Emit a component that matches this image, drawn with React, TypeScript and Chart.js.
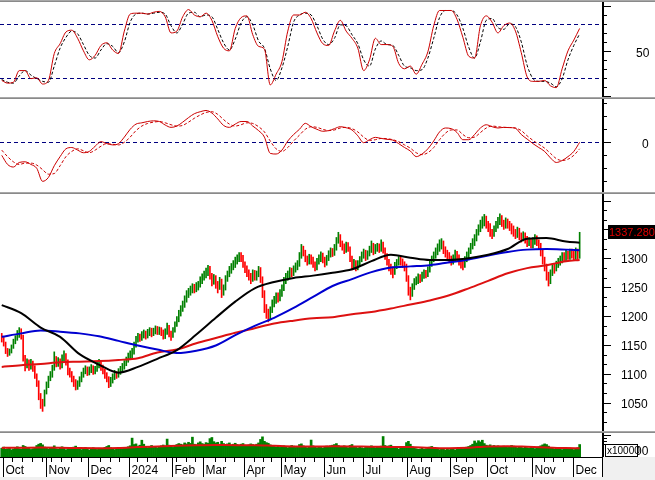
import React, { useEffect, useRef } from 'react';
import { Chart, registerables } from 'chart.js';

Chart.register(...registerables);

const FONT = '"Liberation Sans", Arial, Helvetica, sans-serif';
Chart.defaults.font.family = FONT;

const W = 655;
const AXIS_X = 603;
const X_MIN = -0.89;
const X_MAX = 309;

// ---- time axis (trading-day indices; 0 = 29 Sep 2023) ----
const monthLabels = ['Oct', 'Nov', 'Dec', '2024', 'Feb', 'Mar', 'Apr', 'May', 'Jun', 'Jul', 'Aug', 'Sep', 'Oct', 'Nov', 'Dec'];
const monthStarts = [1, 23, 45, 66, 88, 104, 125, 144, 166, 186, 209, 231, 250, 273, 294];
const weekStarts = [6, 11, 16, 21, 26, 31, 36, 41, 51, 56, 61, 70, 75, 80, 85, 90, 95, 100, 110, 115, 120, 130, 135, 139, 146, 151, 156, 161, 171, 176, 181, 191, 196, 201, 206, 211, 216, 221, 226, 234, 239, 244, 254, 259, 264, 269, 279, 284, 289];

// ---- daily price data ----
const closes = [
  1160, 1152, 1140, 1135, 1138, 1147, 1155, 1162, 1168, 1172,
  1165, 1128, 1115, 1120, 1112, 1118, 1110, 1098, 1085, 1062,
  1048, 1045, 1068, 1080, 1092, 1098, 1110, 1125, 1118, 1122,
  1115, 1128, 1132, 1120, 1105, 1100, 1092, 1085, 1080, 1082,
  1090, 1098, 1104, 1108, 1102, 1106, 1110, 1104, 1108, 1114,
  1118, 1112, 1105, 1098, 1092, 1085, 1088, 1095, 1100, 1098,
  1104, 1108, 1112, 1118, 1124, 1130, 1134, 1138, 1150, 1160,
  1164, 1162, 1168, 1170, 1166, 1172, 1175, 1170, 1174, 1178,
  1175, 1176, 1172, 1165, 1172, 1180, 1170, 1168, 1175, 1186,
  1195, 1205, 1214, 1220, 1230, 1238, 1242, 1246, 1250, 1248,
  1252, 1255, 1262, 1268, 1272, 1278, 1282, 1270, 1260, 1266,
  1255, 1250, 1262, 1240, 1248, 1265, 1272, 1280, 1285, 1290,
  1296, 1300, 1305, 1302, 1290, 1282, 1276, 1270, 1265, 1275,
  1268, 1272, 1280, 1265, 1240, 1215, 1205, 1198, 1210, 1222,
  1228, 1235, 1230, 1240, 1248, 1262, 1268, 1272, 1278, 1275,
  1282, 1286, 1290, 1305, 1318, 1310, 1300, 1295, 1302, 1298,
  1290, 1285, 1295, 1300, 1305, 1298, 1292, 1300, 1308, 1312,
  1310, 1318, 1330, 1338, 1325, 1320, 1315, 1322, 1318, 1300,
  1288, 1292, 1285, 1290, 1298, 1305, 1310, 1302, 1308, 1315,
  1322, 1312, 1318, 1320, 1316, 1324, 1315, 1305, 1295, 1285,
  1280, 1276, 1288, 1292, 1298, 1294, 1290, 1285, 1268, 1245,
  1238, 1250, 1260, 1262, 1268, 1265, 1270, 1275, 1272, 1280,
  1290, 1298, 1305, 1312, 1318, 1324, 1326, 1315, 1310, 1305,
  1300, 1295, 1300, 1308, 1302, 1295, 1290, 1288, 1298, 1305,
  1312, 1320, 1328, 1335, 1345, 1352, 1360, 1365, 1368, 1360,
  1355, 1345, 1342, 1350, 1358, 1365, 1370, 1362, 1358, 1365,
  1360, 1355, 1350, 1345, 1342, 1348, 1338, 1335, 1340, 1332,
  1328, 1330, 1325, 1330, 1335, 1328, 1322, 1310, 1298, 1285,
  1270, 1260, 1275, 1285, 1282, 1290, 1295, 1298, 1305, 1302,
  1308, 1305, 1310, 1306, 1302, 1310, 1305, 1337.28,
];
const lows = [
  1155, 1148, 1135, 1130, 1132, 1136, 1144, 1152, 1158, 1163,
  1160, 1122, 1105, 1110, 1106, 1108, 1104, 1092, 1078, 1055,
  1040, 1035, 1044, 1065, 1076, 1088, 1094, 1106, 1112, 1113,
  1108, 1110, 1122, 1115, 1098, 1094, 1086, 1078, 1072, 1073,
  1078, 1086, 1094, 1100, 1097, 1098, 1102, 1099, 1100, 1104,
  1110, 1106, 1100, 1092, 1086, 1076, 1078, 1084, 1090, 1092,
  1094, 1099, 1104, 1108, 1114, 1120, 1126, 1128, 1134, 1146,
  1155, 1156, 1158, 1162, 1160, 1162, 1166, 1164, 1166, 1169,
  1168, 1168, 1166, 1160, 1161, 1168, 1164, 1158, 1163, 1172,
  1182, 1190, 1200, 1208, 1215, 1224, 1232, 1236, 1240, 1240,
  1242, 1245, 1250, 1256, 1262, 1266, 1270, 1264, 1252, 1255,
  1248, 1240, 1246, 1232, 1236, 1245, 1260, 1268, 1274, 1280,
  1284, 1290, 1294, 1294, 1284, 1275, 1268, 1262, 1256, 1260,
  1262, 1262, 1268, 1258, 1232, 1206, 1196, 1190, 1194, 1206,
  1216, 1222, 1224, 1226, 1234, 1244, 1256, 1262, 1266, 1268,
  1270, 1276, 1280, 1286, 1300, 1304, 1294, 1288, 1290, 1290,
  1284, 1278, 1280, 1290, 1294, 1292, 1285, 1288, 1296, 1302,
  1303, 1305, 1314, 1326, 1320, 1314, 1308, 1310, 1312, 1294,
  1280, 1282, 1278, 1280, 1286, 1294, 1300, 1296, 1298, 1304,
  1310, 1306, 1308, 1312, 1310, 1312, 1309, 1298, 1288, 1278,
  1272, 1266, 1272, 1282, 1288, 1288, 1284, 1278, 1260, 1236,
  1228, 1234, 1246, 1254, 1256, 1258, 1260, 1265, 1266, 1268,
  1276, 1286, 1294, 1300, 1306, 1312, 1316, 1308, 1302, 1298,
  1292, 1288, 1290, 1296, 1296, 1288, 1283, 1280, 1284, 1294,
  1300, 1308, 1316, 1322, 1330, 1340, 1346, 1352, 1356, 1352,
  1346, 1338, 1334, 1338, 1346, 1352, 1358, 1355, 1350, 1352,
  1352, 1348, 1342, 1338, 1334, 1336, 1332, 1328, 1330, 1326,
  1320, 1322, 1318, 1318, 1324, 1322, 1315, 1304, 1290, 1278,
  1262, 1252, 1256, 1270, 1274, 1278, 1284, 1288, 1292, 1295,
  1296, 1298, 1298, 1300, 1296, 1298, 1298, 1300,
];
const highs = [
  1170, 1163, 1155, 1144, 1143, 1150, 1160, 1166, 1175, 1180,
  1178, 1167, 1132, 1126, 1124, 1125, 1122, 1114, 1100, 1088,
  1066, 1056, 1072, 1086, 1096, 1104, 1115, 1138, 1130, 1128,
  1126, 1133, 1140, 1135, 1124, 1110, 1104, 1096, 1090, 1088,
  1095, 1103, 1110, 1114, 1112, 1112, 1116, 1114, 1113, 1120,
  1125, 1122, 1115, 1108, 1102, 1095, 1094, 1100, 1106, 1104,
  1109, 1113, 1118, 1123, 1129, 1136, 1140, 1144, 1155, 1165,
  1170, 1169, 1173, 1176, 1174, 1177, 1180, 1179, 1179, 1183,
  1182, 1181, 1180, 1176, 1178, 1188, 1184, 1174, 1180, 1190,
  1199, 1210, 1218, 1226, 1235, 1244, 1248, 1252, 1256, 1255,
  1258, 1260, 1268, 1273, 1278, 1283, 1288, 1286, 1274, 1272,
  1270, 1260, 1267, 1264, 1254, 1270, 1278, 1286, 1291, 1296,
  1302, 1306, 1310, 1310, 1305, 1294, 1287, 1280, 1274, 1280,
  1279, 1278, 1286, 1284, 1268, 1244, 1220, 1212, 1216, 1228,
  1234, 1240, 1240, 1246, 1254, 1267, 1274, 1278, 1284, 1283,
  1287, 1292, 1296, 1310, 1324, 1321, 1314, 1304, 1307, 1306,
  1302, 1294, 1300, 1306, 1311, 1309, 1302, 1305, 1313, 1318,
  1317, 1324, 1336, 1345, 1341, 1330, 1325, 1328, 1327, 1320,
  1304, 1298, 1296, 1296, 1303, 1311, 1316, 1314, 1313, 1321,
  1330, 1326, 1324, 1326, 1325, 1332, 1328, 1318, 1308, 1298,
  1290, 1285, 1293, 1298, 1303, 1302, 1299, 1294, 1290, 1270,
  1250, 1256, 1265, 1268, 1273, 1272, 1276, 1280, 1279, 1285,
  1295, 1304, 1311, 1318, 1325, 1332, 1334, 1330, 1320, 1314,
  1310, 1304, 1306, 1314, 1312, 1306, 1299, 1296, 1303, 1311,
  1318, 1326, 1334, 1341, 1350, 1358, 1366, 1372, 1376, 1373,
  1364, 1360, 1350, 1356, 1364, 1371, 1377, 1374, 1366, 1370,
  1368, 1364, 1360, 1356, 1350, 1354, 1352, 1344, 1346, 1344,
  1338, 1336, 1334, 1336, 1341, 1339, 1332, 1326, 1314, 1302,
  1290, 1276, 1280, 1290, 1290, 1295, 1300, 1304, 1310, 1310,
  1314, 1312, 1316, 1316, 1312, 1318, 1316, 1345,
];
const prevCloseBefore = 1165;

// ---- moving averages (sampled every 10 trading days) ----
const maDays = [0, 10, 20, 30, 40, 50, 60, 70, 80, 90, 100, 110, 120, 130, 140, 150, 160, 170, 180, 190, 200, 210, 220, 230, 240, 250, 260, 270, 280, 290, 297];
const maBlack = [1219, 1205, 1180, 1164, 1134, 1116, 1102, 1112, 1126, 1141, 1168, 1197, 1225, 1248, 1259, 1266, 1270, 1275, 1281, 1295, 1306, 1301, 1297, 1297, 1300, 1306, 1316, 1334, 1335, 1329, 1327];
const maBlue = [1164, 1170, 1175, 1173, 1170, 1165, 1157, 1149, 1142, 1136, 1140, 1149, 1167, 1183, 1197, 1214, 1233, 1252, 1264, 1276, 1284, 1286, 1288, 1293, 1298, 1305, 1311, 1315, 1316, 1315, 1314];
const maRed = [1112, 1115, 1117, 1120, 1121, 1122, 1124, 1127, 1137, 1142, 1153, 1162, 1171, 1179, 1187, 1192, 1196, 1198, 1203, 1207, 1213, 1220, 1227, 1236, 1248, 1261, 1274, 1283, 1288, 1295, 1297];

// ---- oscillators (sampled every 3 trading days) ----
const oscDays = Array.from({ length: 100 }, (_, k) => k * 3);
const stochK = [
  17, 14, 15, 28, 28, 19, 20, 13, 17, 47,
  58, 71, 73, 64, 50, 40, 45, 56, 59, 51,
  47, 72, 91, 92, 92, 91, 93, 94, 88, 70,
  72, 88, 96, 90, 88, 92, 84, 66, 53, 50,
  75, 87, 89, 68, 55, 52, 12, 24, 38, 72,
  90, 90, 93, 86, 70, 58, 56, 72, 84, 72,
  64, 53, 28, 40, 64, 57, 57, 55, 36, 30,
  33, 24, 35, 49, 78, 95, 95, 95, 85, 65,
  44, 42, 78, 89, 82, 70, 78, 81, 72, 48,
  21, 16, 16, 17, 11, 9, 30, 50, 62, 75,
];
const stochD = [
  18, 15, 14, 22, 28, 23, 19, 16, 15, 33,
  53, 65, 72, 69, 57, 45, 42, 51, 58, 55,
  48, 60, 82, 91, 92, 91, 92, 93, 91, 78,
  70, 80, 92, 93, 88, 90, 88, 74, 59, 51,
  63, 81, 88, 79, 61, 53, 30, 17, 31, 55,
  82, 90, 92, 90, 78, 63, 57, 64, 79, 78,
  68, 58, 40, 33, 52, 61, 57, 56, 45, 33,
  31, 28, 29, 42, 64, 87, 95, 95, 90, 75,
  54, 42, 60, 84, 86, 76, 74, 80, 77, 60,
  34, 19, 16, 16, 14, 10, 19, 40, 56, 69,
];
const macd = [
  -10, -17, -19, -15.5, -15, -17, -20, -30, -27, -18,
  -11, -5, -4, -6, -8, -7, -3, 0.5, -1, -2,
  -1, 4, 10, 14, 15, 16, 16.5, 16, 13.3, 11.5,
  12.5, 15.5, 19, 22, 23.5, 24.5, 22.5, 18, 13, 11.5,
  14, 16, 16, 12.5, 9, 4, -8.5, -9, -6, 1,
  6, 10, 14.6, 12, 10, 8.5, 9, 10.5, 12, 11.2,
  9.5, 5, -0.3, 2, 3.8, 3, 2.3, 1.7, -1, -4,
  -6.7, -11, -9, -5, 1, 8, 11, 10.5, 7.5, 2,
  2, 6, 11, 13.5, 12, 11, 11.5, 11.3, 10.8, 6,
  2.5, -1, -4, -7, -12, -15.5, -14, -11, -7, 0,
];
const macdSignal = [
  -6, -11, -15, -17, -16, -16, -17.5, -21, -24.5, -24,
  -18, -11, -7, -5, -6.5, -8, -6, -3, -1, -1.5,
  -2, 0, 4, 9, 12.5, 14.5, 15.5, 16, 15, 13.5,
  12.5, 13, 15.5, 18.5, 21, 23, 23.5, 21.5, 17.5, 14,
  12.5, 13.5, 15, 14.5, 12, 8, 1, -5, -7, -4,
  1, 5.5, 10, 12, 11.5, 10, 9, 9.5, 11, 11.5,
  10.5, 8, 4, 1.5, 2, 3, 2.8, 2, 0.5, -2,
  -4.5, -8, -9.5, -8, -4, 2, 7, 9.5, 9.5, 6,
  3.5, 4, 7.5, 11, 12.5, 12, 11.5, 11.4, 11, 9,
  5, 1.5, -1.5, -4.5, -8.5, -12.5, -14, -13, -10, -5,
];
const stochLevels = [20, 80];
const macdLevels = [0];

// ---- volume (thousands of x10000 units) ----
const volumes = [
  55, 62, 48, 52, 60, 45, 50, 58, 64, 52,
  49, 72, 66, 58, 54, 47, 52, 60, 72, 80,
  85, 76, 62, 58, 50, 55, 61, 70, 52, 48,
  56, 64, 60, 45, 52, 58, 50, 62, 68, 54,
  50, 46, 53, 60, 48, 44, 52, 58, 50, 47,
  55, 49, 53, 60, 66, 72, 58, 50, 46, 52,
  55, 48, 52, 57, 60, 64, 70, 118, 78, 82,
  68, 74, 105, 80, 62, 58, 66, 72, 60, 64,
  58, 62, 70, 75, 68, 112, 74, 66, 60, 72,
  78, 84, 80, 76, 88, 82, 92, 85, 124, 80,
  76, 88, 95, 84, 80, 90, 86, 115, 122, 96,
  88, 92, 80, 98, 84, 76, 82, 88, 74, 80,
  86, 78, 72, 80, 84, 74, 70, 76, 82, 78,
  72, 80, 88, 110, 126, 98, 90, 86, 76, 70,
  66, 62, 68, 60, 64, 70, 62, 58, 66, 72,
  68, 60, 64, 78, 82, 70, 62, 58, 66, 106,
  70, 62, 58, 64, 60, 56, 62, 68, 64, 70,
  74, 78, 84, 72, 66, 62, 70, 64, 58, 72,
  78, 64, 60, 56, 62, 58, 54, 60, 66, 62,
  70, 64, 58, 62, 60, 68, 128, 72, 66, 70,
  74, 62, 58, 54, 50, 56, 60, 66, 90, 98,
  80, 64, 56, 52, 48, 50, 54, 48, 52, 58,
  62, 66, 58, 54, 50, 46, 52, 48, 44, 50,
  46, 52, 48, 44, 50, 54, 58, 52, 56, 62,
  66, 72, 80, 100, 88, 102, 94, 105, 84, 74,
  70, 76, 68, 72, 64, 70, 66, 62, 68, 64,
  60, 66, 72, 68, 62, 58, 64, 60, 56, 62,
  58, 54, 60, 56, 52, 58, 64, 70, 76, 82,
  78, 68, 60, 56, 50, 54, 48, 52, 46, 50,
  48, 52, 56, 50, 46, 54, 58, 78,
];
const volumeMA = [57, 58, 59, 58, 56, 55, 57, 62, 66, 70, 73, 75, 74, 74, 70, 66, 65, 67, 66, 64, 63, 62, 58, 55, 58, 66, 67, 64, 60, 56, 55];

const lastClose = closes[closes.length - 1];

// ---- helpers ----
type Tick = { v: number; long: boolean };

const stochTicks: Tick[] = [0, 10, 20, 30, 40, 50, 60, 70, 80, 90, 100].map((v) => ({ v, long: v % 50 === 0 }));
const macdTicks: Tick[] = [-30, -20, -10, 0, 10, 20, 30].map((v) => ({ v, long: v === 0 }));
const priceTicks: Tick[] = Array.from({ length: 25 }, (_, k) => ({ v: 1000 + (k * 50) / 3, long: k % 3 === 0 }));
const volTicks: Tick[] = [{ v: 140, long: true }, { v: 120, long: false }, { v: 100, long: false }, { v: 80, long: false }];

function makeDecor(opts: { ticks: Tick[]; levels?: number[]; axisBottom?: number; after?: (chart: any) => void }) {
  return {
    id: 'decor',
    beforeDraw(chart: any) {
      const ctx = chart.ctx;
      ctx.save();
      ctx.fillStyle = '#ffffff';
      ctx.fillRect(0, 0, chart.width, chart.height);
      ctx.restore();
    },
    beforeDatasetsDraw(chart: any) {
      if (!opts.levels) return;
      const { ctx, chartArea } = chart;
      const y = chart.scales.y;
      ctx.save();
      ctx.strokeStyle = '#000080';
      ctx.lineWidth = 1;
      ctx.setLineDash([4, 3]);
      for (const lv of opts.levels) {
        const py = Math.round(y.getPixelForValue(lv)) + 0.5;
        ctx.beginPath();
        ctx.moveTo(chartArea.left, py);
        ctx.lineTo(chartArea.right, py);
        ctx.stroke();
      }
      ctx.restore();
    },
    afterDraw(chart: any) {
      const ctx = chart.ctx;
      const y = chart.scales.y;
      const bottom = opts.axisBottom ?? chart.height;
      ctx.save();
      ctx.fillStyle = '#000';
      ctx.fillRect(AXIS_X - 1, 0, 2, bottom);
      for (const t of opts.ticks) {
        const py = Math.round(y.getPixelForValue(t.v));
        if (py < 0 || py > bottom) continue;
        ctx.fillRect(AXIS_X + 1, py, t.long ? 7 : 3, 1);
      }
      ctx.restore();
      if (opts.after) opts.after(chart);
    },
  };
}

function yScale(min: number, max: number, labels: number[], padding: number, fmt: (v: number) => string, labelOffset = 2) {
  return {
    position: 'right',
    min,
    max,
    grid: { display: false, drawTicks: false },
    border: { display: false },
    afterFit: (s: any) => {
      s.width = W - AXIS_X;
      s.paddingTop = 0;
      s.paddingBottom = 0;
      s.paddingLeft = 0;
      s.paddingRight = 0;
    },
    afterBuildTicks: (s: any) => {
      s.ticks = labels.map((v) => ({ value: v }));
    },
    ticks: {
      padding,
      labelOffset,
      color: '#000',
      crossAlign: 'near',
      autoSkip: false,
      font: { family: FONT, size: 12 },
      callback: (v: any) => fmt(Number(v)),
    },
  };
}

const xScale = { type: 'linear', min: X_MIN, max: X_MAX, display: false, offset: false };

function baseOptions(scales: any, padBottom = 0) {
  return {
    responsive: false,
    maintainAspectRatio: false,
    animation: false,
    devicePixelRatio: 1,
    events: [],
    layout: { autoPadding: false, padding: { left: 0, right: 0, top: 0, bottom: padBottom } },
    plugins: { legend: { display: false }, tooltip: { enabled: false } },
    scales,
  };
}

function lineDs(days: number[], vals: number[], color: string, width: number, dash: number[], order: number) {
  return {
    type: 'line',
    data: days.map((d, k) => ({ x: d, y: vals[k] })),
    borderColor: color,
    borderWidth: width,
    borderDash: dash,
    pointRadius: 0,
    fill: false,
    cubicInterpolationMode: 'monotone',
    order,
  };
}

const stochConfig = () => ({
  type: 'line',
  data: {
    datasets: [
      lineDs(oscDays, stochK, '#cc0000', 1, [], 1),
      lineDs(oscDays, stochD, '#000000', 1, [3, 2], 2),
    ],
  },
  options: baseOptions({ x: xScale, y: yScale(-1.45, 104.46, [50], 33, (v) => String(v), 3) }),
  plugins: [makeDecor({ ticks: stochTicks, levels: stochLevels })],
});

const macdConfig = () => ({
  type: 'line',
  data: {
    datasets: [
      lineDs(oscDays, macd, '#cc0000', 1, [], 1),
      lineDs(oscDays, macdSignal, '#cc0000', 1, [3, 2], 2),
    ],
  },
  options: baseOptions({ x: xScale, y: yScale(-38.2, 33.3, [0], 39, (v) => String(v), 2) }),
  plugins: [makeDecor({ ticks: macdTicks, levels: macdLevels })],
});

const candleColors = closes.map((c, i) => (c >= (i === 0 ? prevCloseBefore : closes[i - 1]) ? '#008000' : '#ff0000'));

const priceConfig = () => ({
  type: 'line',
  data: {
    datasets: [
      {
        type: 'bar',
        data: closes.map((_, i) => ({ x: i, y: [lows[i], highs[i]] })),
        backgroundColor: candleColors,
        borderWidth: 0,
        barThickness: 1,
        order: 5,
      },
      lineDs(maDays, maRed, '#dd1111', 2, [], 3),
      lineDs(maDays, maBlue, '#0000d0', 2, [], 2),
      lineDs(maDays, maBlack, '#000000', 2, [], 1),
    ],
  },
  options: baseOptions({
    x: xScale,
    y: yScale(1001.0, 1411.3, [1050, 1100, 1150, 1200, 1250, 1300, 1350], 18, (v) => String(v), 1.5),
  }),
  plugins: [
    makeDecor({
      ticks: priceTicks,
      after: (chart: any) => {
        const ctx = chart.ctx;
        const py = Math.round(chart.scales.y.getPixelForValue(lastClose));
        ctx.save();
        ctx.fillStyle = '#000';
        ctx.fillRect(AXIS_X + 5, py - 12, W - AXIS_X - 5, 14);
        ctx.fillStyle = '#e00000';
        ctx.font = `11px ${FONT}`;
        ctx.textAlign = 'left';
        ctx.textBaseline = 'middle';
        ctx.fillText(lastClose.toFixed(3), AXIS_X + 6, py - 4.5);
        ctx.restore();
      },
    }),
  ],
});

const volumeConfig = () => ({
  type: 'line',
  data: {
    datasets: [
      {
        type: 'bar',
        data: volumes.map((v, i) => ({ x: i, y: v })),
        backgroundColor: '#008000',
        borderWidth: 0,
        barThickness: 2,
        order: 2,
      },
      lineDs(maDays, volumeMA, '#dd1111', 2, [], 1),
    ],
  },
  options: baseOptions({ x: xScale, y: yScale(0, 150, [40], 12, (v) => String(v * 1000), 1) }, 23),
  plugins: [
    makeDecor({
      ticks: volTicks,
      axisBottom: 24,
      after: (chart: any) => {
        const { ctx, chartArea } = chart;
        const xs = chart.scales.x;
        const b = Math.round(chartArea.bottom);
        ctx.save();
        ctx.fillStyle = '#f0f0f0';
        ctx.fillRect(AXIS_X, b, W - AXIS_X, chart.height - b);
        ctx.fillRect(0, 44, W, chart.height - 44);
        ctx.fillStyle = '#000';
        ctx.fillRect(0, b, AXIS_X, 1);
        for (const d of weekStarts) {
          const px = Math.round(xs.getPixelForValue(d - 0.5));
          ctx.fillRect(px, b, 1, 5);
        }
        ctx.font = `12px ${FONT}`;
        ctx.textAlign = 'left';
        ctx.textBaseline = 'alphabetic';
        monthStarts.forEach((d, k) => {
          const px = Math.round(xs.getPixelForValue(d - 0.5));
          ctx.fillRect(px, b, 1, 20);
          ctx.fillText(monthLabels[k], px + 2.5, b + 17);
        });
        ctx.fillRect(AXIS_X - 1, b, 1, 20);
        // unit box
        ctx.fillStyle = '#fff';
        ctx.fillRect(605, 11, 33, 12);
        ctx.strokeStyle = '#000';
        ctx.lineWidth = 1;
        ctx.strokeRect(605.5, 11.5, 32, 12);
        ctx.fillStyle = '#000';
        ctx.font = `10px ${FONT}`;
        ctx.textBaseline = 'middle';
        ctx.fillText('x10000', 607, 18);
        ctx.restore();
      },
    }),
  ],
});

function ChartCanvas({ top, height, make }: { top: number; height: number; make: () => any }) {
  const ref = useRef<HTMLCanvasElement | null>(null);
  useEffect(() => {
    if (!ref.current) return;
    const chart = new Chart(ref.current, make());
    return () => chart.destroy();
  }, [make]);
  return (
    <canvas
      ref={ref}
      width={W}
      height={height}
      style={{ position: 'absolute', left: 0, top, width: W, height, display: 'block' }}
    />
  );
}

function Sep({ top }: { top: number }) {
  return (
    <div style={{ position: 'absolute', left: 0, top, width: W, height: 2 }}>
      <div style={{ height: 1, background: '#a8a8a8' }} />
      <div style={{ height: 1, background: '#8a8a8a' }} />
    </div>
  );
}

export default function App() {
  return (
    <div
      style={{
        position: 'fixed',
        left: 0,
        top: 0,
        width: W,
        height: 480,
        background: '#f0f0f0',
        overflow: 'hidden',
      }}
    >
      <Sep top={0} />
      <ChartCanvas top={2} height={95} make={stochConfig} />
      <Sep top={97} />
      <ChartCanvas top={99} height={93} make={macdConfig} />
      <Sep top={192} />
      <ChartCanvas top={194} height={237} make={priceConfig} />
      <Sep top={431} />
      <ChartCanvas top={433} height={47} make={volumeConfig} />
    </div>
  );
}
